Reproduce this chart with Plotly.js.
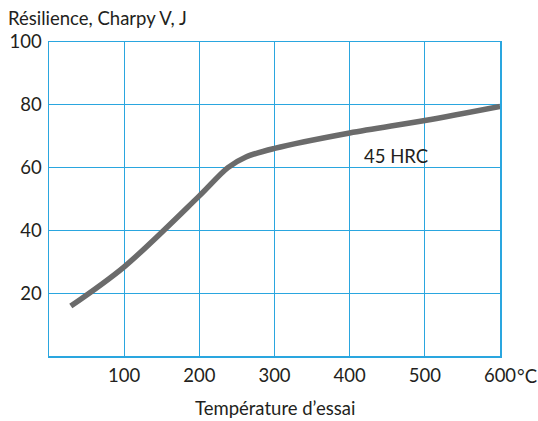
<!DOCTYPE html>
<html><head><meta charset="utf-8">
<script src="https://cdn.plot.ly/plotly-3.0.1.min.js"></script>
<style>html,body{margin:0;padding:0;background:#fff}#c{width:538px;height:421px}</style>
</head><body><div id="c"></div>
<script>
const temperature = [29, 100, 200, 238, 262, 300, 400, 500, 600];
const resilience = [15.9, 28.4, 51, 60, 63.4, 66.1, 71, 75, 79.5];
const xTickVals = [100, 200, 300, 400, 500, 600];
const xTickText = ['100', '200', '300', '400', '500', '600'];
const yTickVals = [20, 40, 60, 80, 100];
const seriesLabel = '45 HRC';
const yTitle = 'Résilience, Charpy V, J';
const xTitle = 'Température d\u2019essai';
const unitLabel = '°C';

const grid = '#2aa6df';
const font = {family: 'Lato, "Open Sans", sans-serif', size: 18.5, color: '#231f20'};
const W = 538 - 49 - 38, H = 421 - 42 - 65;

Plotly.newPlot('c', [{
  x: temperature, y: resilience, type: 'scatter', mode: 'lines',
  line: {color: '#6b6b6b', width: 5.5, shape: 'spline', smoothing: 0.9},
  hoverinfo: 'skip', showlegend: false
}], {
  width: 538, height: 421,
  margin: {l: 49, r: 38, t: 42, b: 65},
  paper_bgcolor: '#fff', plot_bgcolor: '#fff',
  font: font,
  xaxis: {range: [0, 600], tickvals: xTickVals, ticktext: xTickText, showgrid: true, gridcolor: grid, gridwidth: 1.3,
    zeroline: false, showline: true, linecolor: grid, linewidth: 1.5, mirror: true, ticks: '', ticklen: 0,
    ticklabelstandoff: 2, tickfont: font, fixedrange: true},
  yaxis: {range: [0, 100], tickvals: yTickVals, showgrid: true, gridcolor: grid, gridwidth: 1.3,
    zeroline: false, showline: true, linecolor: grid, linewidth: 1.5, mirror: true, ticks: '', ticklen: 0,
    ticklabelstandoff: 2, tickfont: font, fixedrange: true},
  annotations: [
    {x: 461, y: 63.7, xref: 'x', yref: 'y', text: seriesLabel, showarrow: false, font: font},
    {x: (515 - 49) / W, y: (356 - 376) / H, xref: 'paper', yref: 'paper', text: unitLabel, showarrow: false,
      xanchor: 'left', yanchor: 'middle', font: font},
    {x: (6 - 49) / W, y: (356 - 18) / H, xref: 'paper', yref: 'paper', text: yTitle, showarrow: false,
      xanchor: 'left', yanchor: 'middle', font: font},
    {x: (275 - 49) / W, y: (356 - 408) / H, xref: 'paper', yref: 'paper', text: xTitle, showarrow: false,
      xanchor: 'center', yanchor: 'middle', font: font}
  ]
}, {displayModeBar: false, staticPlot: true});
</script></body></html>
